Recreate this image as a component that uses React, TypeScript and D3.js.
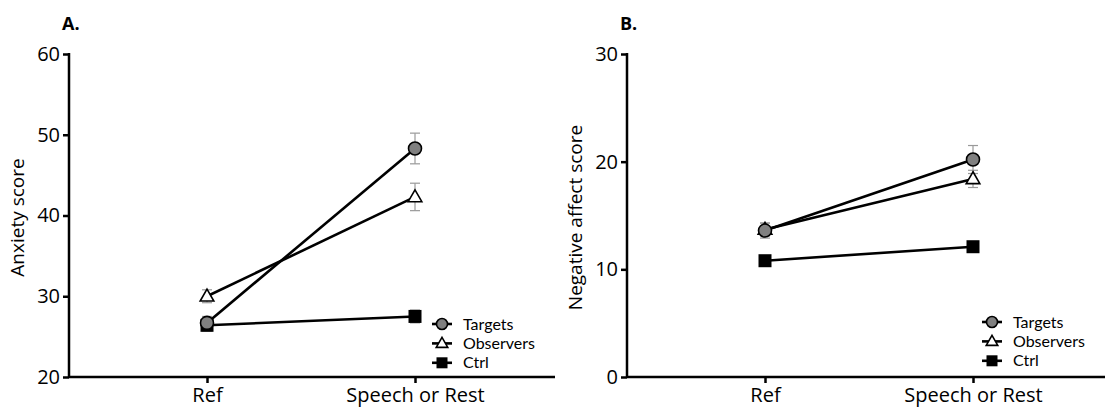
import React, { useEffect, useRef } from "react";
import * as d3 from "d3";

const conditions = ["Ref", "Speech or Rest"];
const groups = ["Targets", "Observers", "Ctrl"];

// panel A – anxiety score (mean, sem)
const anxietyTargets = [26.7, 48.3];
const anxietyTargetsErr = [0.8, 1.9];
const anxietyObservers = [30.0, 42.3];
const anxietyObserversErr = [0.8, 1.7];
const anxietyCtrl = [26.4, 27.5];
const anxietyCtrlErr = [0.7, 0.8];
const anxietyTicks = [20, 30, 40, 50, 60];

// panel B – negative affect score
const affectTargets = [13.6, 20.2];
const affectTargetsErr = [0.7, 1.3];
const affectObservers = [13.7, 18.4];
const affectObserversErr = [0.6, 0.8];
const affectCtrl = [10.8, 12.1];
const affectCtrlErr = [0.3, 0.4];
const affectTicks = [0, 10, 20, 30];

const FONT = "'Open Sans', 'DejaVu Sans', sans-serif";
const LEGEND_FONT = "Lato, 'Open Sans', sans-serif";

const App = () => {
  const svgRef = useRef<SVGSVGElement>(null);

  useEffect(() => {
    document.body.style.margin = "0";
    const svg = d3.select(svgRef.current);
    svg.selectAll("*").remove();

    const panels = [
      {
        letter: "A.", x0: 69, x1: 555, legendX: 442, legendY: 324,
        label: "Anxiety score", domain: [20, 60], ticks: anxietyTicks,
        series: [
          { name: groups[0], values: anxietyTargets, err: anxietyTargetsErr },
          { name: groups[1], values: anxietyObservers, err: anxietyObserversErr },
          { name: groups[2], values: anxietyCtrl, err: anxietyCtrlErr },
        ],
      },
      {
        letter: "B.", x0: 627, x1: 1105, legendX: 992, legendY: 322,
        label: "Negative affect score", domain: [0, 30], ticks: affectTicks,
        series: [
          { name: groups[0], values: affectTargets, err: affectTargetsErr },
          { name: groups[1], values: affectObservers, err: affectObserversErr },
          { name: groups[2], values: affectCtrl, err: affectCtrlErr },
        ],
      },
    ];

    const top = 54, bottom = 377;

    const drawMarker = (sel, name, size) => {
      if (name === "Targets") {
        sel.append("circle").attr("r", size * 0.5).attr("fill", "#808080")
          .attr("stroke", "#000").attr("stroke-width", 1.6);
      } else if (name === "Observers") {
        const s = size * 1.05;
        const h = s * 0.87;
        sel.append("path")
          .attr("d", `M0,${-h * 0.6}L${s / 2},${h * 0.4}L${-s / 2},${h * 0.4}Z`)
          .attr("fill", "#fff").attr("stroke", "#000").attr("stroke-width", 1.6);
      } else {
        sel.append("rect").attr("x", -size / 2).attr("y", -size / 2)
          .attr("width", size).attr("height", size).attr("fill", "#000");
      }
    };

    panels.forEach(p => {
      const x = d3.scalePoint().domain(conditions).range([p.x0 + 138, p.x0 + 346]);
      const y = d3.scaleLinear().domain(p.domain).range([bottom, top]);
      const g = svg.append("g");

      // panel letter
      g.append("text").attr("x", p.x0 - 7).attr("y", 30)
        .style("font-family", FONT).style("font-weight", "bold").style("font-size", "18px")
        .text(p.letter);

      // y axis
      const yAxis = g.append("g").attr("transform", `translate(${p.x0},0)`)
        .call(d3.axisLeft(y).tickValues(p.ticks).tickSize(6).tickPadding(3).tickSizeOuter(0));
      yAxis.select(".domain").attr("stroke-width", 2.5).attr("d", `M0,${top - 1}V${bottom + 1}`);
      yAxis.selectAll(".tick line").attr("stroke-width", 2.5);
      yAxis.selectAll("text").style("font-family", FONT).style("font-size", "20px").attr("fill", "#000");

      // x axis
      const xAxis = g.append("g").attr("transform", `translate(0,${bottom})`)
        .call(d3.axisBottom(x).tickSize(6).tickPadding(5).tickSizeOuter(0));
      xAxis.select(".domain").attr("stroke-width", 2.5).attr("d", `M${p.x0},0H${p.x1}`);
      xAxis.selectAll(".tick line").attr("stroke-width", 2.5);
      xAxis.selectAll("text").style("font-family", FONT).style("font-size", "20px").attr("fill", "#000");

      // y label
      g.append("text")
        .attr("transform", `translate(${p.x0 - 45},${(top + bottom) / 2 + 2}) rotate(-90)`)
        .attr("text-anchor", "middle")
        .style("font-family", FONT).style("font-size", "19px")
        .text(p.label);

      // error bars
      p.series.forEach(s => {
        s.values.forEach((v, i) => {
          const cx = x(conditions[i]);
          const e = g.append("g").attr("stroke", "#999").attr("stroke-width", 1.2);
          e.append("line").attr("x1", cx).attr("x2", cx).attr("y1", y(v - s.err[i])).attr("y2", y(v + s.err[i]));
          [v - s.err[i], v + s.err[i]].forEach(t => {
            e.append("line").attr("x1", cx - 5).attr("x2", cx + 5).attr("y1", y(t)).attr("y2", y(t));
          });
        });
      });

      // lines (drawn Ctrl first so Targets stays on top)
      const line = d3.line<number>().x((d, i) => x(conditions[i])).y(d => y(d));
      [...p.series].reverse().forEach(s => {
        g.append("path").datum(s.values).attr("d", line)
          .attr("fill", "none").attr("stroke", "#000").attr("stroke-width", 2.6);
      });
      [...p.series].reverse().forEach(s => {
        s.values.forEach((v, i) => {
          const m = g.append("g").attr("transform", `translate(${x(conditions[i])},${y(v)})`);
          drawMarker(m, s.name, 13);
        });
      });

      // legend
      p.series.forEach((s, i) => {
        const ly = p.legendY + i * 19.4;
        const lg = g.append("g").attr("transform", `translate(${p.legendX},${ly})`);
        lg.append("line").attr("x1", -10).attr("x2", 10).attr("stroke", "#000").attr("stroke-width", 2.6);
        drawMarker(lg, s.name, 11);
        g.append("text").attr("x", p.legendX + 21).attr("y", ly).attr("dy", "0.35em")
          .style("font-family", LEGEND_FONT).style("font-size", "16px")
          .text(s.name);
      });
    });
  }, []);

  return <svg ref={svgRef} width={1105} height={409} style={{ display: "block", background: "#fff" }} />;
};

export default App;
